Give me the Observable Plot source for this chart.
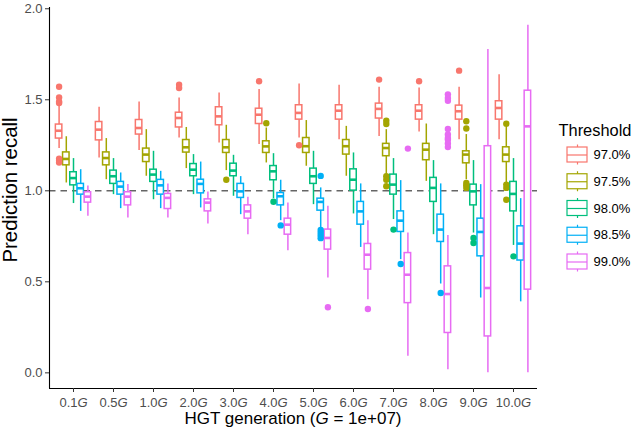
<!DOCTYPE html>
<html>
<head>
<meta charset="utf-8">
<script src="https://cdn.jsdelivr.net/npm/d3@7"></script>
<script src="https://cdn.jsdelivr.net/npm/@observablehq/plot@0.6"></script>
<style>
  html, body { margin: 0; padding: 0; background: #fff; }
  #wrap { position: relative; width: 640px; height: 434px; font-family: "Liberation Sans", Arial, sans-serif; }
  #legend { position: absolute; left: 540px; top: 100px; }
</style>
</head>
<body>
<div id="wrap"><div id="main"></div><div id="legend"></div></div>
<script>
// ---- data ----
const generations = ["0.1", "0.5", "1.0", "2.0", "3.0", "4.0", "5.0", "6.0", "7.0", "8.0", "9.0", "10.0"];
const thresholds = ["97.0%", "97.5%", "98.0%", "98.5%", "99.0%"];
const colors = ["#F8766D", "#A3A500", "#00BF7D", "#00B0F6", "#E76BF3"];

// rows: thresholds, columns: generations
const whiskerHigh = [
  [1.473, 1.459, 1.488, 1.510, 1.537, 1.556, 1.587, 1.580, 1.569, 1.565, 1.569, 1.638],
  [1.297, 1.287, 1.336, 1.348, 1.360, 1.345, 1.386, 1.354, 1.336, 1.367, 1.309, 1.354],
  [1.177, 1.177, 1.217, 1.199, 1.195, 1.204, 1.217, 1.208, 1.177, 1.166, 1.166, 1.177],
  [1.116, 1.098, 1.107, 1.158, 1.078, 1.058, 1.016, 1.038, 1.056, 1.038, 1.034, 0.957],
  [1.027, 1.034, 1.038, 0.994, 0.964, 0.933, 0.915, 0.836, 0.768, 0.755, 1.776, 1.909]
];
const upperQuartile = [
  [1.364, 1.378, 1.389, 1.429, 1.459, 1.451, 1.470, 1.470, 1.479, 1.470, 1.468, 1.492],
  [1.211, 1.211, 1.232, 1.279, 1.279, 1.272, 1.290, 1.279, 1.258, 1.258, 1.217, 1.239],
  [1.102, 1.111, 1.116, 1.147, 1.149, 1.136, 1.122, 1.118, 1.089, 1.071, 1.034, 1.049],
  [1.038, 1.049, 1.060, 1.061, 1.038, 0.988, 0.957, 0.939, 0.887, 0.869, 0.847, 0.805],
  [0.992, 0.992, 0.983, 0.953, 0.920, 0.847, 0.787, 0.708, 0.658, 0.585, 1.245, 1.550]
];
const medians = [
  [1.330, 1.336, 1.345, 1.400, 1.409, 1.418, 1.428, 1.440, 1.450, 1.440, 1.437, 1.455],
  [1.175, 1.180, 1.199, 1.239, 1.239, 1.244, 1.245, 1.245, 1.235, 1.226, 1.199, 1.199],
  [1.070, 1.080, 1.089, 1.116, 1.111, 1.107, 1.080, 1.061, 1.034, 1.016, 0.997, 0.983],
  [1.014, 1.023, 1.030, 1.038, 0.997, 0.970, 0.939, 0.887, 0.836, 0.787, 0.774, 0.710],
  [0.968, 0.968, 0.961, 0.935, 0.887, 0.814, 0.741, 0.649, 0.539, 0.433, 0.466, 1.354]
];
const lowerQuartile = [
  [1.287, 1.277, 1.309, 1.348, 1.360, 1.367, 1.391, 1.391, 1.397, 1.391, 1.391, 1.391],
  [1.140, 1.140, 1.158, 1.210, 1.208, 1.208, 1.208, 1.199, 1.190, 1.168, 1.151, 1.158],
  [1.030, 1.038, 1.049, 1.080, 1.080, 1.058, 1.038, 1.001, 0.979, 0.939, 0.920, 0.887],
  [0.979, 0.979, 0.979, 0.986, 0.961, 0.920, 0.891, 0.814, 0.774, 0.719, 0.640, 0.617],
  [0.935, 0.920, 0.900, 0.887, 0.847, 0.759, 0.677, 0.567, 0.383, 0.219, 0.200, 0.457]
];
const whiskerLow = [
  [1.232, 1.180, 1.221, 1.290, 1.263, 1.254, 1.290, 1.281, 1.299, 1.323, 1.281, 1.281],
  [1.043, 1.061, 1.080, 1.122, 1.111, 1.153, 1.135, 1.080, 1.089, 1.052, 1.061, 1.043],
  [0.930, 0.979, 0.951, 0.979, 0.970, 0.957, 0.924, 0.873, 0.842, 0.759, 0.768, 0.700],
  [0.887, 0.902, 0.902, 0.906, 0.869, 0.836, 0.796, 0.689, 0.622, 0.488, 0.411, 0.390],
  [0.860, 0.851, 0.851, 0.818, 0.759, 0.671, 0.521, 0.402, 0.091, 0.017, 0.000, 0.000]
];
// outliers: [threshold index, generation index, value]
const outliers = [
  [0, 0, 1.572], [0, 0, 1.513], [0, 0, 1.490], [0, 0, 1.482], [0, 0, 1.177], [0, 0, 1.165], [0, 0, 1.155],
  [0, 3, 1.583], [0, 3, 1.565], [0, 5, 1.602], [0, 6, 1.250], [0, 8, 1.611], [0, 9, 1.602], [0, 10, 1.660],
  [1, 4, 1.061], [1, 5, 1.371],
  [1, 8, 1.385], [1, 8, 1.367], [1, 8, 1.080], [1, 8, 1.061], [1, 8, 1.025],
  [1, 10, 1.382], [1, 10, 1.342], [1, 10, 1.043], [1, 10, 1.030], [1, 10, 1.016],
  [1, 11, 1.369], [1, 11, 1.034], [1, 11, 1.016], [1, 11, 0.951],
  [2, 5, 0.940], [2, 8, 0.787], [2, 10, 0.741], [2, 10, 0.713], [2, 11, 0.640],
  [3, 5, 0.810], [3, 6, 1.082], [3, 6, 0.785], [3, 6, 0.770], [3, 6, 0.755], [3, 6, 0.740],
  [3, 8, 0.598], [3, 9, 0.439],
  [4, 6, 0.360], [4, 7, 0.351], [4, 8, 1.232],
  [4, 9, 1.530], [4, 9, 1.510], [4, 9, 1.495], [4, 9, 1.340], [4, 9, 1.310], [4, 9, 1.290],
  [4, 9, 1.280], [4, 9, 1.260], [4, 9, 1.240]
];
const yTicks = [0, 0.5, 1.0, 1.5, 2.0];

// ---- derived tables ----
const dodge = 0.18, half = 0.081;
const boxes = [];
thresholds.forEach((t, j) => generations.forEach((g, i) => boxes.push({
  thr: t, pos: i + (j - 2) * dodge,
  lo: whiskerLow[j][i], q1: lowerQuartile[j][i], med: medians[j][i], q3: upperQuartile[j][i], hi: whiskerHigh[j][i]
})));
const points = outliers.map(([j, i, v]) => ({thr: thresholds[j], pos: i + (j - 2) * dodge, v}));

const xDomain = [-0.6, 11.6];
const yDomain = [-0.086, 2.007];
const font = '"Liberation Sans", Arial, sans-serif';

const chart = Plot.plot({
  width: 640, height: 434,
  marginLeft: 49, marginRight: 103, marginTop: 7, marginBottom: 46,
  x: {domain: xDomain},
  y: {domain: yDomain},
  color: {domain: thresholds, range: colors},
  style: {fontFamily: font, fontSize: "13px", background: "white", overflow: "visible"},
  marks: [
    Plot.ruleY([1], {stroke: "#666", strokeWidth: 1.5, strokeDasharray: "6.5,5"}),
    Plot.ruleX(boxes, {x: "pos", y1: "lo", y2: "hi", stroke: "thr", strokeWidth: 1.5}),
    Plot.rect(boxes, {x1: d => d.pos - half, x2: d => d.pos + half, y1: "q1", y2: "q3", fill: "white", stroke: "thr", strokeWidth: 1.5}),
    Plot.ruleY(boxes, {x1: d => d.pos - half, x2: d => d.pos + half, y: "med", stroke: "thr", strokeWidth: 2.6}),
    Plot.dot(points, {x: "pos", y: "v", fill: "thr", r: 3.2}),
    Plot.ruleX([xDomain[0]], {y1: yDomain[0], y2: yDomain[1], stroke: "black", strokeWidth: 1.1}),
    Plot.ruleY([yDomain[0]], {x1: xDomain[0], x2: xDomain[1], stroke: "black", strokeWidth: 1.1}),
    Plot.axisY({ticks: yTicks, tickFormat: d3.format(".1f"), tickSize: 4, tickPadding: 3, fontSize: 13, fill: "#4D4D4D", stroke: "#333", label: null}),
    Plot.axisX({ticks: d3.range(generations.length), tickFormat: i => generations[i] + "G", tickSize: 4, tickPadding: 5, fontSize: 13, fill: "#4D4D4D", stroke: "#333", label: null})
  ]
});
document.getElementById("main").appendChild(chart);

const svg = d3.select(chart);
svg.selectAll('[aria-label="x-axis tick label"] text').each(function () {
  const s = this.textContent;
  this.textContent = "";
  const t = d3.select(this);
  t.append("tspan").text(s.slice(0, -1));
  t.append("tspan").attr("font-style", "italic").text("G");
});
// axis titles
svg.append("text")
  .attr("transform", "translate(17,190) rotate(-90)")
  .attr("text-anchor", "middle").attr("font-size", 20.4).attr("fill", "black")
  .attr("font-family", font)
  .text("Prediction recall");
const xt = svg.append("text")
  .attr("x", 293).attr("y", 423.5)
  .attr("text-anchor", "middle").attr("font-size", 17).attr("fill", "black")
  .attr("font-family", font);
xt.append("tspan").text("HGT generation (");
xt.append("tspan").attr("font-style", "italic").text("G");
xt.append("tspan").text(" = 1e+07)");

// ---- legend ----
const legendItems = thresholds.map((t, i) => ({t, yc: 54.5 + i * 26.75}));
const legend = Plot.plot({
  width: 100, height: 180, margin: 0,
  x: {type: "identity", axis: null}, y: {type: "identity", axis: null},
  color: {domain: thresholds, range: colors},
  style: {fontFamily: font, background: "transparent", overflow: "visible"},
  marks: [
    Plot.text(["Threshold"], {x: 18, y: 30, text: d => d, textAnchor: "start", fontSize: 16.4, fill: "black"}),
    Plot.ruleX(legendItems, {x: 37, y1: d => d.yc - 10, y2: d => d.yc + 10, stroke: "t", strokeWidth: 1.2}),
    Plot.rect(legendItems, {x1: 27, x2: 47, y1: d => d.yc - 7.5, y2: d => d.yc + 7.5, fill: "white", stroke: "t", strokeWidth: 1.2}),
    Plot.ruleY(legendItems, {x1: 27, x2: 47, y: "yc", stroke: "t", strokeWidth: 1.2}),
    Plot.text(legendItems, {x: 53, y: "yc", text: "t", textAnchor: "start", fontSize: 13, fill: "black"})
  ]
});
document.getElementById("legend").appendChild(legend);
</script>
</body>
</html>
